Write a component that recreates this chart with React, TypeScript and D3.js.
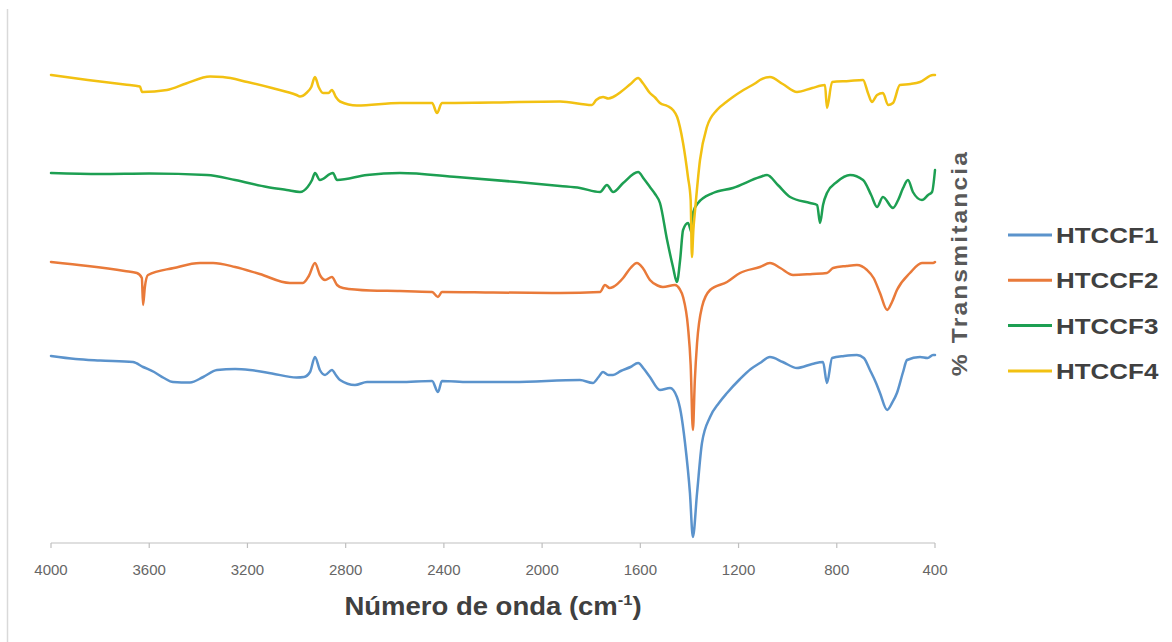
import React from "react";
import * as d3 from "d3";

const seriesNames = ["HTCCF1", "HTCCF2", "HTCCF3", "HTCCF4"];
const seriesColors = ["#5b93cc", "#e97a3a", "#1d9f52", "#f2c112"];
const xTicks = [4000, 3600, 3200, 2800, 2400, 2000, 1600, 1200, 800, 400];

// wavenumber (cm-1), transmittance (arbitrary offset %)
const htccf1Wn = [4000, 3900, 3800, 3666, 3625, 3580, 3540, 3503, 3434, 3380, 3324, 3250, 3190, 3100, 3000, 2970, 2945, 2925, 2905, 2884, 2856, 2840, 2823, 2762, 2713, 2579, 2448, 2424, 2408, 2300, 2119, 1846, 1793, 1770, 1752, 1730, 1711, 1680, 1640, 1609, 1585, 1561, 1520, 1479, 1451, 1435, 1418, 1398, 1386, 1369, 1349, 1316, 1280, 1247, 1194, 1150, 1113, 1072, 1020, 962, 900, 856, 840, 819, 770, 718, 690, 665, 640, 624, 595, 575, 555, 530, 514, 461, 430, 408, 400];
const htccf1T = [36.8, 36.2, 35.9, 35.6, 34.6, 33.6, 32.4, 31.6, 31.5, 32.6, 34.0, 34.2, 34.0, 33.3, 32.5, 32.6, 33.6, 36.6, 34.0, 33.0, 34.0, 33.0, 32.0, 31.0, 31.6, 31.6, 31.8, 29.6, 31.8, 31.6, 31.6, 32.0, 31.4, 32.6, 33.6, 33.0, 33.0, 33.8, 34.6, 35.4, 34.2, 32.6, 30.0, 30.4, 28.6, 25.5, 19.4, 9.4, 0.6, 9.4, 19.4, 24.6, 27.4, 29.4, 32.2, 34.2, 35.4, 36.6, 35.6, 34.4, 35.2, 35.6, 31.4, 36.4, 36.8, 37.0, 36.4, 34.0, 31.4, 29.4, 26.0, 27.4, 29.4, 33.6, 36.0, 36.6, 36.4, 37.0, 37.0];

const htccf2Wn = [4000, 3850, 3700, 3650, 3630, 3625, 3618, 3605, 3500, 3393, 3340, 3250, 3150, 3027, 2974, 2950, 2925, 2905, 2884, 2856, 2835, 2811, 2700, 2579, 2448, 2424, 2408, 2200, 1927, 1764, 1744, 1725, 1711, 1670, 1640, 1614, 1590, 1561, 1530, 1508, 1459, 1440, 1426, 1406, 1395, 1386, 1378, 1369, 1349, 1316, 1247, 1194, 1113, 1072, 1030, 978, 900, 840, 815, 760, 718, 677, 650, 624, 595, 575, 555, 502, 453, 408, 400];
const htccf2T = [55.6, 54.8, 53.8, 53.4, 52.4, 47.0, 50.5, 53.0, 54.4, 55.4, 55.4, 54.6, 53.2, 51.4, 51.4, 52.8, 55.4, 53.0, 52.0, 52.6, 51.0, 50.4, 49.9, 49.8, 49.6, 48.6, 49.6, 49.5, 49.4, 49.6, 51.0, 50.4, 50.6, 52.4, 54.4, 55.4, 54.4, 52.0, 50.9, 50.6, 51.0, 50.2, 48.6, 42.6, 35.0, 22.0, 32.0, 39.4, 46.6, 50.0, 51.6, 53.4, 54.6, 55.4, 54.4, 53.0, 53.2, 53.4, 54.4, 54.8, 55.0, 54.0, 52.4, 49.4, 46.0, 47.6, 50.0, 53.4, 55.4, 55.4, 55.6];

const htccf3Wn = [4000, 3800, 3600, 3365, 3250, 3120, 3040, 2986, 2955, 2937, 2925, 2905, 2852, 2835, 2713, 2579, 2347, 2100, 1927, 1846, 1764, 1736, 1711, 1670, 1609, 1585, 1561, 1540, 1520, 1491, 1467, 1451, 1438, 1426, 1406, 1390, 1386, 1365, 1304, 1223, 1113, 1084, 1040, 990, 909, 880, 868, 856, 840, 800, 746, 693, 660, 636, 612, 571, 550, 530, 510, 490, 453, 428, 412, 400];
const htccf3T = [73.4, 73.2, 73.3, 73.0, 72.0, 70.6, 70.0, 69.6, 70.6, 72.0, 73.4, 72.0, 73.4, 72.0, 73.0, 73.4, 72.6, 71.6, 70.8, 70.4, 69.6, 71.0, 69.6, 71.4, 73.6, 72.2, 70.6, 69.2, 67.4, 60.0, 54.6, 51.6, 56.0, 62.0, 63.4, 61.4, 65.4, 67.4, 69.4, 70.4, 72.6, 73.0, 71.0, 68.6, 67.4, 67.0, 63.4, 67.0, 69.4, 71.6, 73.0, 72.0, 69.0, 66.6, 68.6, 66.4, 68.0, 70.4, 72.0, 69.6, 68.0, 69.0, 69.6, 74.0];

const htccf4Wn = [4000, 3850, 3700, 3638, 3629, 3528, 3450, 3352, 3300, 3200, 3100, 3000, 2986, 2960, 2940, 2925, 2910, 2892, 2870, 2856, 2840, 2823, 2754, 2579, 2448, 2428, 2408, 2200, 1927, 1797, 1780, 1752, 1730, 1711, 1680, 1640, 1609, 1590, 1561, 1540, 1520, 1490, 1467, 1450, 1426, 1406, 1395, 1390, 1384, 1377, 1357, 1329, 1288, 1250, 1223, 1180, 1130, 1113, 1072, 1020, 962, 900, 848, 840, 819, 750, 693, 673, 657, 636, 612, 591, 571, 543, 500, 461, 408, 400];
const htccf4T = [93.0, 92.0, 91.1, 90.7, 89.6, 90.0, 91.3, 92.7, 92.6, 91.6, 90.4, 89.0, 88.7, 89.4, 90.6, 92.6, 90.6, 89.4, 89.4, 90.0, 88.6, 87.7, 86.9, 87.4, 87.4, 85.4, 87.4, 87.5, 87.7, 87.0, 88.0, 88.6, 88.3, 88.6, 89.6, 91.2, 92.4, 91.4, 89.4, 88.5, 87.4, 86.8, 86.0, 84.6, 79.4, 72.6, 68.0, 56.6, 62.0, 66.0, 76.0, 82.6, 86.0, 87.6, 88.6, 90.0, 91.4, 92.0, 92.6, 91.2, 89.6, 90.4, 91.0, 86.4, 91.6, 91.8, 92.0, 89.4, 87.6, 89.0, 89.4, 87.0, 87.4, 91.0, 91.2, 91.6, 93.0, 93.0];

const allWn = [htccf1Wn, htccf2Wn, htccf3Wn, htccf4Wn];
const allT = [htccf1T, htccf2T, htccf3T, htccf4T];

const W = 1172;
const H = 642;
const FONT = "'Liberation Sans', Arial, sans-serif";

export default function App() {
  const x = d3.scaleLinear().domain([4000, 400]).range([51, 935]);
  const y = d3.scaleLinear().domain([0, 100]).range([540, 40]);
  const line = d3
    .line<[number, number]>()
    .x((d) => x(d[0]))
    .y((d) => y(d[1]))
    .curve(d3.curveMonotoneX);
  const axisY = 543;

  return (
    <svg
      width={W}
      height={H}
      style={{ position: "absolute", left: 0, top: 0, background: "#fff" }}
    >
      <rect x={0} y={0} width={W} height={H} fill="#ffffff" />
      <line x1={7.5} x2={7.5} y1={9} y2={H} stroke="#d9d9d9" strokeWidth={1.5} />

      {/* x axis */}
      <line x1={x(4000)} x2={x(400)} y1={axisY} y2={axisY} stroke="#bfbfbf" strokeWidth={1.2} />
      {xTicks.map((t) => (
        <g key={t}>
          <line x1={x(t)} x2={x(t)} y1={axisY} y2={axisY + 5} stroke="#bfbfbf" strokeWidth={1.2} />
          <text x={x(t)} y={575} textAnchor="middle" fontFamily={FONT} fontSize={15} fill="#666666">
            {t}
          </text>
        </g>
      ))}

      {/* series */}
      {seriesNames.map((name, i) => {
        const pts = allWn[i].map((w, k) => [w, allT[i][k]] as [number, number]);
        return (
          <path
            key={name}
            d={line(pts) || ""}
            fill="none"
            stroke={seriesColors[i]}
            strokeWidth={2.5}
            strokeLinejoin="round"
            strokeLinecap="round"
          />
        );
      })}

      {/* x title */}
      <text
        transform="translate(493,615) scale(1.1,1)"
        textAnchor="middle"
        fontFamily={FONT}
        fontWeight="bold"
        fontSize={25}
        fill="#404040"
      >
        Número de onda (cm
        <tspan fontSize={15} dy={-10}>-1</tspan>
        <tspan dy={10}>)</tspan>
      </text>

      {/* y title */}
      <text
        transform="translate(967,263) rotate(-90) scale(1.12,1)"
        textAnchor="middle"
        fontFamily={FONT}
        fontWeight="bold"
        fontSize={22}
        letterSpacing={1.9}
        fill="#595959"
      >
        % Transmitancia
      </text>

      {/* legend */}
      {seriesNames.map((name, i) => {
        const ly = 235 + i * 45.3;
        return (
          <g key={name}>
            <line x1={1008} x2={1052} y1={ly} y2={ly} stroke={seriesColors[i]} strokeWidth={3} />
            <text
              transform={`translate(1056,${ly + 8}) scale(1.18,1)`}
              fontFamily={FONT}
              fontWeight="bold"
              fontSize={22}
              fill="#404040"
            >
              {name}
            </text>
          </g>
        );
      })}
    </svg>
  );
}
